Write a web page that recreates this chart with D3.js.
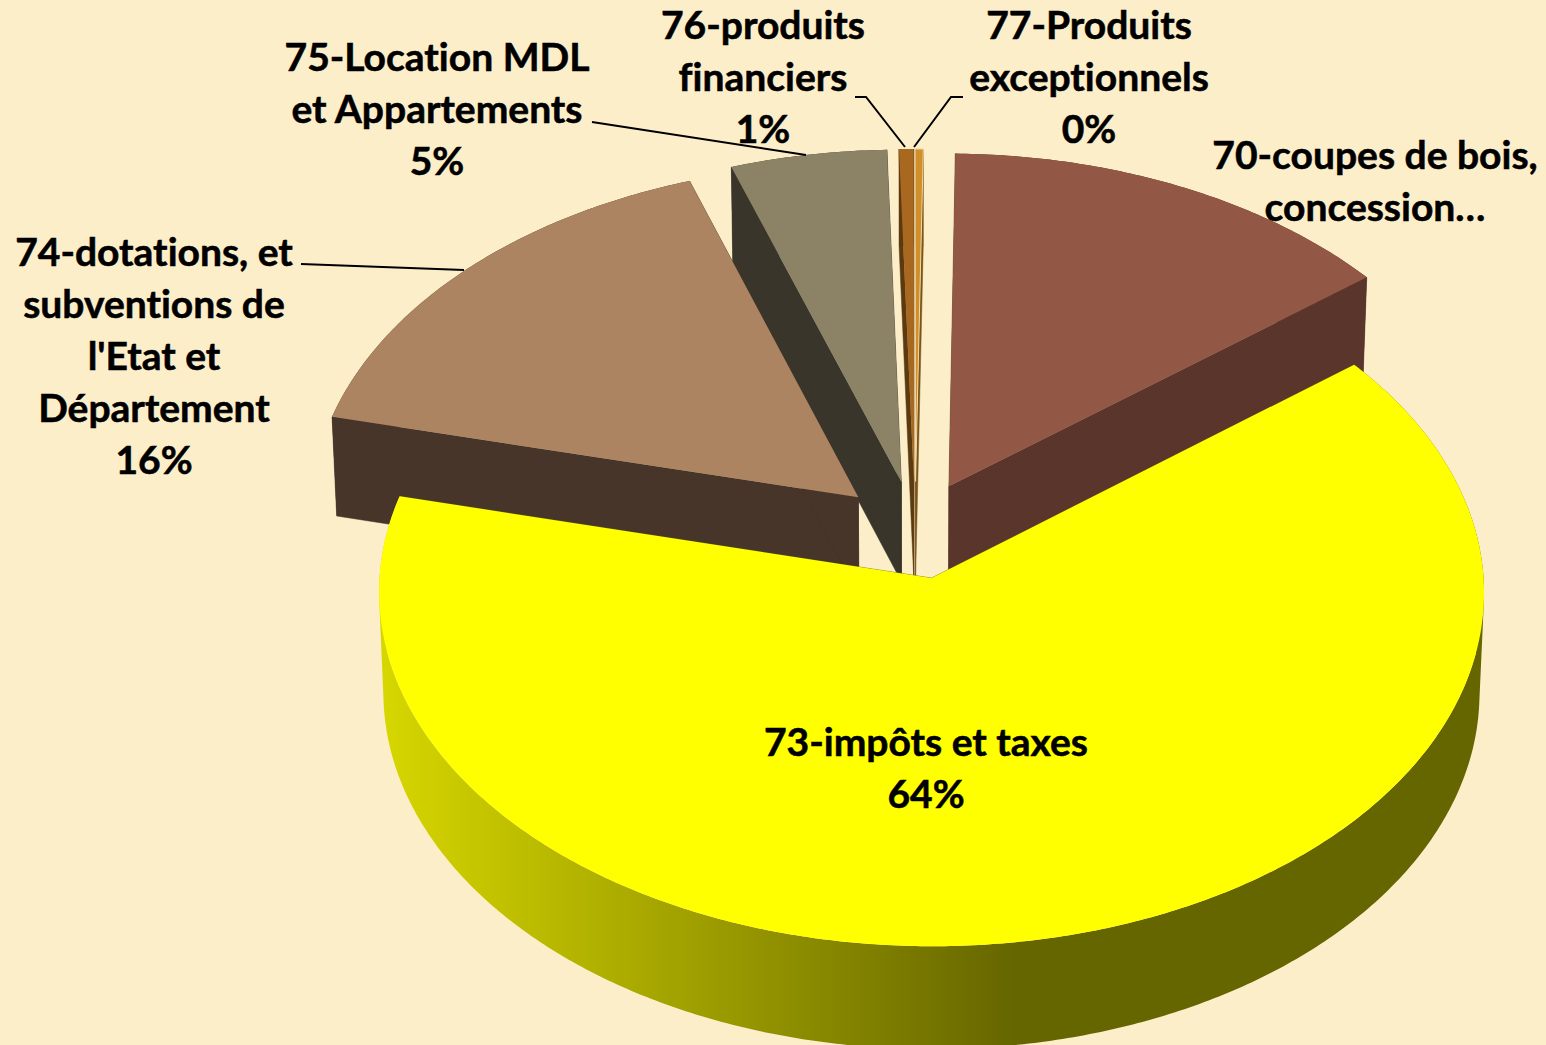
<!DOCTYPE html>
<html><head><meta charset="utf-8">
<script src="https://cdnjs.cloudflare.com/ajax/libs/d3/7.8.5/d3.min.js"></script>
<style>html,body{margin:0;padding:0;background:#fdeeca;overflow:hidden}svg{display:block}
text{font-family:Lato,"Open Sans",sans-serif;font-weight:700;fill:#000;stroke:#000;stroke-width:.55px;font-variant-ligatures:none}</style></head>
<body><svg id="c" width="1546" height="1045"></svg>
<script>
const categories=["70-coupes de bois, concession…","73-impôts et taxes","74-dotations, et subventions de l'Etat et Département","75-Location MDL et Appartements","76-produits financiers","77-Produits exceptionnels"];
const values=[14.14,64.38,15.99,4.8,0.44,0.25];
const labelLines=[["70-coupes de bois,","concession…"],["73-impôts et taxes"],["74-dotations, et","subventions de","l'Etat et","Département"],["75-Location MDL","et Appartements"],["76-produits","financiers"],["77-Produits","exceptionnels"]];
const percentLabels=[null,"64%","16%","5%","1%","0%"];
const topColors=["#935845","#ffff00","#ac8461","#8c8367","#a86820","#d08f2a"];
const sideColors=["#5a352b","url(#yellowSide)","#463528","#39352a","#5c3a10","#7a5418"];
const labelCenters=[[1375,156],[926,743],[154,253],[437,58],[763,26],[1089,26]];
const leaders=[null,null,[[301,264],[464,270]],[[592,122],[806,155]],[[855,97],[866,97],[905,147]],[[963,97],[951,97],[914,147]]];
const drawOrder=[3,4,5,0,2,1];

const svg=d3.select("#c");
const W=1546,H=1045;
svg.append("rect").attr("width",W).attr("height",H).attr("fill","#fdeeca");
const grad=svg.append("defs").append("linearGradient").attr("id","yellowSide")
 .attr("gradientUnits","userSpaceOnUse").attr("x1",385).attr("x2",1013).attr("y1",0).attr("y2",0);
grad.append("stop").attr("offset",0).attr("stop-color","#d6d600");
grad.append("stop").attr("offset",1).attr("stop-color","#666600");

// perspective projection of the pie plane
const cx=915,cy=530,kx=549,ky=349.5,q=0.04,explode=0.14;
const kxB=kx*0.992,kyB=352,cyB=630;
const project=(X,Y,bottom)=>{const d=1+q*Y;
 return bottom?[cx+kxB*X/d,cyB-kyB*Y/d]:[cx+kx*X/d,cy-ky*Y/d];};

const startA=0.85*Math.PI/180;
const arcs=d3.pie().sort(null).startAngle(startA).endAngle(startA+2*Math.PI)(values);
const line=d3.line();
const g=svg.append("g");

drawOrder.forEach(i=>{
 const a=arcs[i],mid=(a.startAngle+a.endAngle)/2;
 const ox=explode*Math.sin(mid),oy=explode*Math.cos(mid);
 const rim=(t,b)=>project(ox+Math.sin(t),oy+Math.cos(t),b);
 const apex=b=>project(ox,oy,b);
 const steps=Math.max(2,Math.ceil((a.endAngle-a.startAngle)/0.01));
 const ts=d3.range(steps+1).map(k=>a.startAngle+(a.endAngle-a.startAngle)*k/steps);
 const s=g.append("g");
 // cut faces
 [a.startAngle,a.endAngle].forEach(t=>{
  s.append("path").attr("d",line([apex(false),rim(t,false),rim(t,true),apex(true)])+"Z")
   .attr("fill",i===1?"#666600":sideColors[i]).attr("stroke",i===1?"#666600":sideColors[i]).attr("stroke-width",.5);
 });
 // outer wall: one quad per step, so the silhouette between the rims is filled
 s.append("path").attr("d",d3.range(steps).map(k=>{
   const t0=ts[k],t1=ts[k+1];
   let q4=[rim(t0,false),rim(t1,false),rim(t1,true),rim(t0,true)];
   const area=d3.polygonArea(q4); if(area<0)q4=q4.reverse();
   return line(q4)+"Z";
  }).join("")).attr("fill",sideColors[i]);
 // top
 const top=s.append("path").attr("d",line([apex(false)].concat(ts.map(t=>rim(t,false))))+"Z")
  .attr("fill",topColors[i]);
 if(i===5)top.attr("stroke","#f3d9a4").attr("stroke-width",1);
});

// leaders
const lg=svg.append("g");
leaders.forEach(l=>{if(l)lg.append("path").attr("d",line(l)).attr("fill","none").attr("stroke","#000").attr("stroke-width",2);});

// labels
const fs=39,lh=52;
const tg=svg.append("g");
labelLines.forEach((ls,i)=>{
 const lines=ls.concat(percentLabels[i]?[percentLabels[i]]:[]);
 lines.forEach((t,k)=>{
  tg.append("text").attr("x",labelCenters[i][0]).attr("y",labelCenters[i][1]+k*lh+13.3)
   .attr("text-anchor","middle").attr("font-size",fs).text(t);
 });
});
</script></body></html>
